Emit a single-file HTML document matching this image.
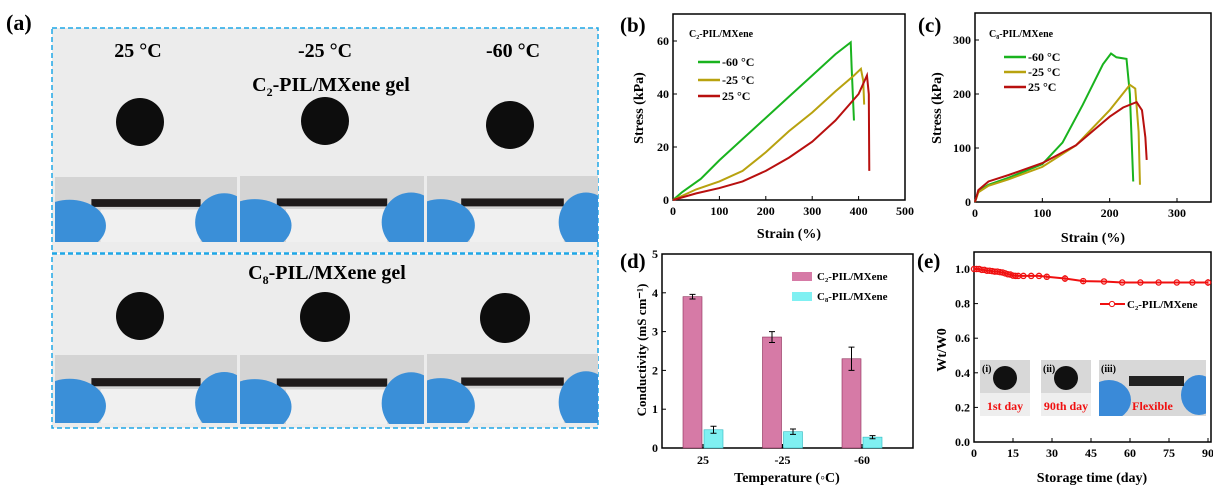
<!DOCTYPE html>
<html><head><meta charset="utf-8"><style>
html,body{margin:0;padding:0;background:#fff;width:1213px;height:487px;overflow:hidden}
svg text{font-family:"Liberation Serif",serif;font-weight:bold;fill:#000}
</style></head><body>
<svg id="fig" width="1213" height="487" viewBox="0 0 1213 487" xmlns="http://www.w3.org/2000/svg">
<defs id="defs"></defs>
<g id="pa">
<text x="6" y="30" font-size="22">(a)</text>
<rect x="52" y="28" width="546" height="225" fill="#ececec" stroke="#1ea7e6" stroke-width="1.5" stroke-dasharray="5,3"/>
<rect x="52" y="254" width="546" height="174" fill="#ececec" stroke="#1ea7e6" stroke-width="1.5" stroke-dasharray="5,3"/>
<text x="138" y="57" font-size="20" text-anchor="middle">25 °C</text>
<text x="325" y="57" font-size="20" text-anchor="middle">-25 °C</text>
<text x="513" y="57" font-size="20" text-anchor="middle">-60 °C</text>
<text x="331" y="91" font-size="20" text-anchor="middle">C<tspan font-size="12" dy="5">2</tspan><tspan dy="-5">-PIL/MXene gel</tspan></text>
<text x="327" y="279" font-size="20" text-anchor="middle">C<tspan font-size="12" dy="5">8</tspan><tspan dy="-5">-PIL/MXene gel</tspan></text>
<g id="photos"></g>
</g>
<g id="pb"></g>
<g id="pc"></g>
<g id="pd"></g>
<g id="pe"></g>
</svg>
<script>
// ---- data ----
const bStrain60=[0,20,60,100,150,200,250,300,350,383,385,390];
const bStress60=[0,3,8,15,23,31,39,47,55,59.5,50,30];
const bStrain25n=[0,50,100,150,200,250,300,350,390,405,410,412];
const bStress25n=[0,4,7,11,18,26,33,41,47,49.5,45,36];
const bStrain25=[0,50,100,150,200,250,300,350,400,418,422,423];
const bStress25=[0,2.5,4.5,7,11,16,22,30,40,47,40,11];
const cStrain60=[0,5,20,50,100,130,160,190,202,210,225,230,235];
const cStress60=[0,20,32,45,70,110,180,255,275,268,265,200,38];
const cStrain25n=[0,5,20,50,100,150,200,230,238,243,245];
const cStress25n=[0,18,30,42,65,105,170,217,210,130,32];
const cStrain25=[0,5,20,50,100,150,200,220,240,248,253,255];
const cStress25=[0,22,38,50,72,105,158,175,185,170,120,78];
const dCats=["25","-25","-60"];
const dC2=[3.9,2.86,2.3];const dC2err=[0.06,0.14,0.3];
const dC8=[0.47,0.42,0.28];const dC8err=[0.09,0.07,0.04];
const eDays=[0,1,2,3,4,5,6,7,8,9,10,11,12,13,14,15,16,17,19,22,25,28,35,42,50,57,64,71,78,84,90];
const eVals=[1,1,1,0.995,0.995,0.99,0.99,0.988,0.985,0.985,0.982,0.98,0.975,0.97,0.968,0.962,0.96,0.96,0.96,0.96,0.96,0.955,0.945,0.93,0.928,0.922,0.922,0.922,0.922,0.922,0.922];
const eErr=[0.01,0,0,0,0,0,0,0,0,0,0,0,0,0,0,0,0,0,0,0,0,0.01,0.02,0.01,0.005,0.005,0.005,0.005,0.005,0.005,0.02];

const NS="http://www.w3.org/2000/svg";
function mk(p,tag,at,txt){const e=document.createElementNS(NS,tag);for(const k in at)e.setAttribute(k,at[k]);if(txt!=null)e.textContent=txt;p.appendChild(e);return e;}
function lin(d0,d1,r0,r1){return v=>r0+(v-d0)*(r1-r0)/(d1-d0);}

// photos
const ph=document.getElementById('photos');const defs=document.getElementById('defs');
[[55,177,182,65],[240,176,184,66],[427,176,171,66],[55,355,182,68],[240,355,184,69],[427,354,171,69]].forEach((r,i)=>{
 const [x,y,w,h]=r;
 const cp=mk(defs,'clipPath',{id:'cp'+i});mk(cp,'rect',{x:x,y:y,width:w,height:h});
 const g=mk(ph,'g',{'clip-path':'url(#cp'+i+')'});
 
 
 mk(g,'rect',{x:x,y:y,width:w,height:h,fill:'#d4d4d4'});
 mk(g,'rect',{x:x+w*0.25,y:y+h*0.5,width:w*0.55,height:h*0.5,fill:'#f0f0f0'});
 mk(g,'rect',{x:x+w*0.2,y:y+h*0.34,width:w*0.6,height:h*0.12,fill:'#1e1a1a'});
 mk(g,'ellipse',{cx:x+w*0.08,cy:y+h*0.75,rx:w*0.2,ry:h*0.4,fill:'#3a8fd8'});
 mk(g,'ellipse',{cx:x+w*0.93,cy:y+h*0.7,rx:w*0.16,ry:h*0.45,fill:'#3a8fd8'});
});
[[140,122,24],[325,121,24],[510,125,24],[140,316,24],[325,317,25],[505,318,25]].forEach(c=>{
 const e=mk(ph,'circle',{cx:c[0],cy:c[1],r:c[2],fill:'#0d0d0d'});
 
 
});

function axesBox(g,x0,y0,x1,y1){mk(g,'rect',{x:x0,y:y1,width:x1-x0,height:y0-y1,fill:'none',stroke:'#000','stroke-width':1.5});}
function line(g,xs,ys,X,Y,col,name){
 const p=mk(g,'polyline',{points:xs.map((v,i)=>X(v)+','+Y(ys[i])).join(' '),fill:'none',stroke:col,'stroke-width':2});
 
 
}
function xt(g,vals,X,y,fs){vals.forEach(v=>{mk(g,'line',{x1:X(v),x2:X(v),y1:y,y2:y-4,stroke:'#000'});mk(g,'text',{x:X(v),y:y+15,'font-size':fs,'text-anchor':'middle'},String(v));});}
function yt(g,vals,Y,x,fs,fmt){vals.forEach(v=>{mk(g,'line',{x1:x,x2:x+4,y1:Y(v),y2:Y(v),stroke:'#000'});mk(g,'text',{x:x-4,y:Y(v)+4,'font-size':fs,'text-anchor':'end'},fmt?fmt(v):String(v));});}
function leg(g,x,y,col,lab){mk(g,'line',{x1:x,x2:x+22,y1:y,y2:y,stroke:col,'stroke-width':2.5});mk(g,'text',{x:x+24,y:y+4,'font-size':12},lab);}
const G='#19b31e',Yc='#b8a20f',R='#b8100f';

// (b)
{const g=document.getElementById('pb');const X=lin(0,500,673,905),Y=lin(0,60,200,41);
axesBox(g,673,200,905,14);xt(g,[0,100,200,300,400,500],X,200,12);yt(g,[0,20,40,60],Y,673,12);
line(g,bStrain60,bStress60,X,Y,G,'line-m60c');line(g,bStrain25n,bStress25n,X,Y,Yc,'line-m25c');line(g,bStrain25,bStress25,X,Y,R,'line-25c');
mk(g,'text',{x:620,y:32,'font-size':21},'(b)');
mk(g,'text',{x:689,y:37,'font-size':10},'C₂-PIL/MXene');
leg(g,698,62,G,'-60 °C');leg(g,698,80,Yc,'-25 °C');leg(g,698,96,R,'25 °C');
mk(g,'text',{x:789,y:238,'font-size':14,'text-anchor':'middle'},'Strain (%)');
mk(g,'text',{x:643,y:108,'font-size':14,'text-anchor':'middle',transform:'rotate(-90 643 108)'},'Stress (kPa)');}
// (c)
{const g=document.getElementById('pc');const X=lin(0,300,975,1177),Y=lin(0,300,202,40);
axesBox(g,975,202,1211,13);xt(g,[0,100,200,300],X,202,12);yt(g,[0,100,200,300],Y,975,12);
line(g,cStrain60,cStress60,X,Y,G,'line-m60c');line(g,cStrain25n,cStress25n,X,Y,Yc,'line-m25c');line(g,cStrain25,cStress25,X,Y,R,'line-25c');
mk(g,'text',{x:918,y:32,'font-size':21},'(c)');
mk(g,'text',{x:989,y:37,'font-size':10},'C₈-PIL/MXene');
leg(g,1004,57,G,'-60 °C');leg(g,1004,72,Yc,'-25 °C');leg(g,1004,87,R,'25 °C');
mk(g,'text',{x:1093,y:242,'font-size':14,'text-anchor':'middle'},'Strain (%)');
mk(g,'text',{x:941,y:108,'font-size':14,'text-anchor':'middle',transform:'rotate(-90 941 108)'},'Stress (kPa)');}
// (d)
{const g=document.getElementById('pd');const Y=lin(0,5,448,254);const cx=[703,782.5,862];
axesBox(g,662,448,913,254);yt(g,[0,1,2,3,4,5],Y,662,12);
dCats.forEach((c,i)=>{mk(g,'line',{x1:cx[i],x2:cx[i],y1:448,y2:444,stroke:'#000'});mk(g,'text',{x:cx[i],y:464,'font-size':12,'text-anchor':'middle'},c);
 const b1=mk(g,'rect',{x:cx[i]-20,y:Y(dC2[i]),width:19,height:448-Y(dC2[i]),fill:'#d67aa6',stroke:'#8a2a55','stroke-width':0.6});
 
 const b2=mk(g,'rect',{x:cx[i]+1,y:Y(dC8[i]),width:19,height:448-Y(dC8[i]),fill:'#7ff0f2',stroke:'#30b8c0','stroke-width':0.6});
 
 [[cx[i]-10.5,dC2[i],dC2err[i]],[cx[i]+10.5,dC8[i],dC8err[i]]].forEach(e=>{mk(g,'path',{d:`M${e[0]} ${Y(e[1]-e[2])}V${Y(e[1]+e[2])}M${e[0]-3} ${Y(e[1]-e[2])}h6M${e[0]-3} ${Y(e[1]+e[2])}h6`,stroke:'#000',fill:'none'});});
});
mk(g,'rect',{x:792,y:272,width:20,height:9,fill:'#d67aa6'});mk(g,'text',{x:817,y:280,'font-size':11},'C₂-PIL/MXene');
mk(g,'rect',{x:792,y:292,width:20,height:9,fill:'#7ff0f2'});mk(g,'text',{x:817,y:300,'font-size':11},'C₈-PIL/MXene');
mk(g,'text',{x:620,y:268,'font-size':21},'(d)');
mk(g,'text',{x:787,y:482,'font-size':14,'text-anchor':'middle'},'Temperature (◦C)');
mk(g,'text',{x:646,y:350,'font-size':13,'text-anchor':'middle',transform:'rotate(-90 646 350)'},'Conductivity (mS cm⁻¹)');}
// (e)
{const g=document.getElementById('pe');const X=lin(0,90,974,1208),Y=lin(0,1,442,269);
axesBox(g,974,442,1211,252);xt(g,[0,15,30,45,60,75,90],X,442,12);yt(g,[0,0.2,0.4,0.6,0.8,1.0],Y,974,12,v=>v.toFixed(1));
line(g,eDays,eVals,X,Y,'#f01010','line-c2-retention');
eDays.forEach((d,i)=>{const c=mk(g,'circle',{cx:X(d),cy:Y(eVals[i]),r:2.6,fill:'none',stroke:'#f01010','stroke-width':1.3});
 if(eErr[i])mk(g,'path',{d:`M${X(d)} ${Y(eVals[i]-eErr[i])}V${Y(eVals[i]+eErr[i])}`,stroke:'#f01010'});});
mk(g,'line',{x1:1100,x2:1125,y1:304,y2:304,stroke:'#f01010','stroke-width':2});mk(g,'circle',{cx:1112,cy:304,r:2.6,fill:'#fff',stroke:'#f01010'});
mk(g,'text',{x:1127,y:308,'font-size':11},'C₂-PIL/MXene');
[[980,360,50,'(i)','1st day'],[1041,360,50,'(ii)','90th day'],[1099,360,107,'(iii)','Flexible']].forEach((b,i)=>{
 const cp=mk(defs,'clipPath',{id:'ecp'+i});mk(cp,'rect',{x:b[0],y:b[1],width:b[2],height:56});
 const gg=mk(g,'g',{'clip-path':'url(#ecp'+i+')'});
 const r=mk(gg,'rect',{x:b[0],y:b[1],width:b[2],height:56,fill:'#d8d8d8'});
 if(b[3]!=='(iii)'){mk(gg,'circle',{cx:b[0]+25,cy:b[1]+18,r:12,fill:'#111'});mk(gg,'rect',{x:b[0],y:b[1]+33,width:b[2],height:23,fill:'#eee'});}
 else{mk(gg,'ellipse',{cx:b[0]+10,cy:b[1]+40,rx:22,ry:20,fill:'#3a8ad8'});mk(gg,'ellipse',{cx:b[0]+100,cy:b[1]+35,rx:18,ry:20,fill:'#3a8ad8'});mk(gg,'rect',{x:b[0]+30,y:b[1]+16,width:55,height:10,fill:'#222'});}
 mk(g,'text',{x:b[0]+2,y:b[1]+12,'font-size':10},b[3]);
 const t=mk(g,'text',{x:b[0]+b[2]/2,y:b[1]+50,'font-size':12,'text-anchor':'middle'},b[4]);t.style.fill='#f01010';});
mk(g,'text',{x:917,y:268,'font-size':21},'(e)');
mk(g,'text',{x:1092,y:482,'font-size':14,'text-anchor':'middle'},'Storage time (day)');
mk(g,'text',{x:946,y:350,'font-size':14,'text-anchor':'middle',transform:'rotate(-90 946 350)'},'Wt/W0');}
</script>
</body></html>
